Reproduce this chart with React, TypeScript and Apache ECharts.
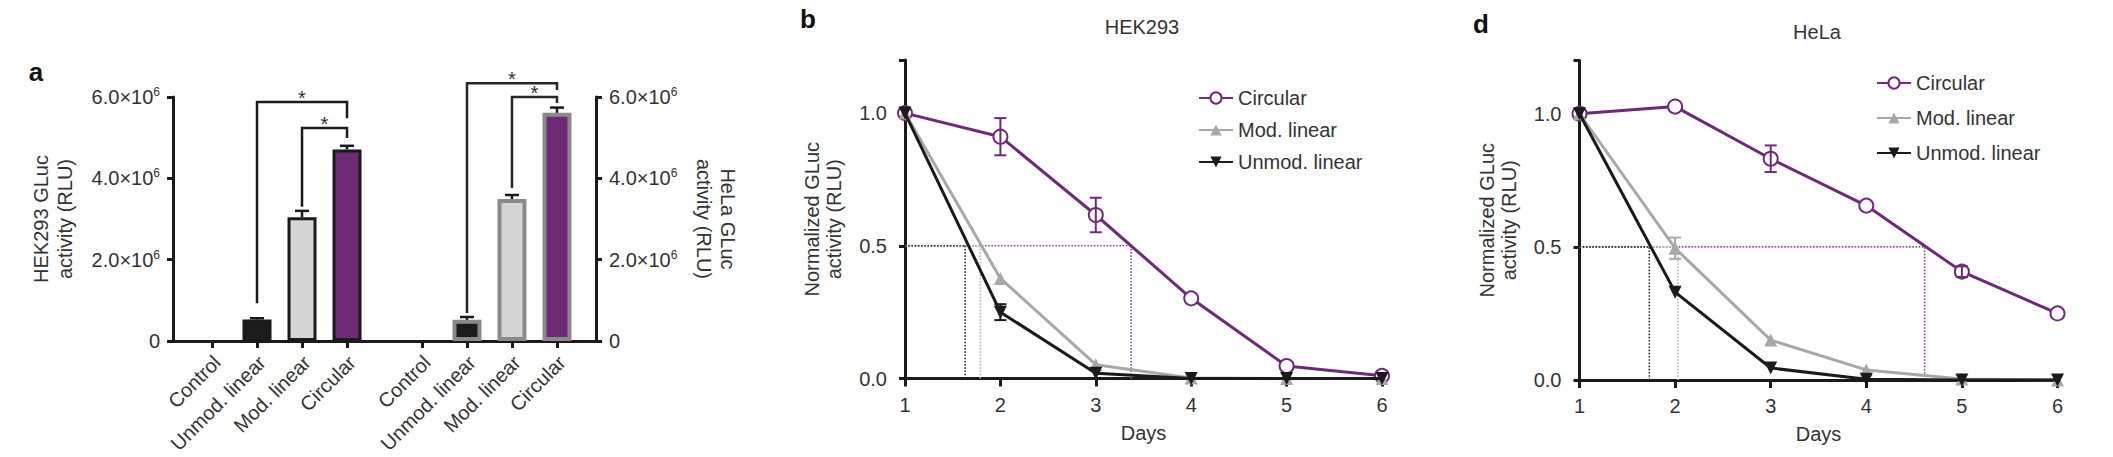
import React, { useEffect, useRef } from "react";
import * as echarts from "echarts";

// ---------- Panel a: bar data ----------
const barCategories = ["Control", "Unmod. linear", "Mod. linear", "Circular"];
const hekBarValues = [0, 0.53e6, 3.04e6, 4.71e6];
const hekBarErrors = [0, 0.03e6, 0.16e6, 0.09e6];
const helaBarValues = [0, 0.52e6, 3.49e6, 5.61e6];
const helaBarErrors = [0, 0.07e6, 0.1e6, 0.13e6];
const barFills = ["#1c1c1c", "#1c1c1c", "#d5d5d5", "#6e2a74"];
// significance brackets: [fromIndex, toIndex, level, leftFoot, rightFoot]
const hekBrackets = [
  [1, 3, 5.88e6, 0.93e6, 5.48e6],
  [2, 3, 5.24e6, 3.3e6, 4.99e6],
];
const helaBrackets = [
  [1, 3, 6.34e6, 0.69e6, 6.17e6],
  [2, 3, 6.0e6, 3.76e6, 5.85e6],
];

// ---------- Panels b / d: time courses ----------
const days = [1, 2, 3, 4, 5, 6];
const seriesNames = ["Circular", "Mod. linear", "Unmod. linear"];
const hekCircular = [1.0, 0.911, 0.616, 0.302, 0.047, 0.01];
const hekCircularErr = [0, 0.07, 0.065, 0, 0, 0];
const hekMod = [1.0, 0.377, 0.052, 0.002, 0.0, 0.0];
const hekModErr = [0, 0, 0, 0, 0, 0];
const hekUnmod = [1.0, 0.25, 0.02, 0.0, 0.0, 0.0];
const hekUnmodErr = [0, 0.03, 0, 0, 0, 0];
const hekHalfLives = [3.37, 1.79, 1.63];

const helaCircular = [1.0, 1.027, 0.831, 0.655, 0.407, 0.25];
const helaCircularErr = [0, 0, 0.05, 0, 0.02, 0];
const helaMod = [1.0, 0.495, 0.15, 0.038, 0.004, 0.0];
const helaModErr = [0, 0.04, 0, 0, 0, 0];
const helaUnmod = [1.0, 0.33, 0.045, 0.003, 0.0, 0.0];
const helaUnmodErr = [0, 0, 0, 0, 0, 0];
const helaHalfLives = [4.61, 2.03, 1.73];
const halfLevel = 0.5;

const FONT = "'Liberation Sans', Arial, Helvetica, sans-serif";
const FS = 20;
const AXIS = "#1a1a1a";
const TEXT = "#333333";
const PURPLE = "#6e2a78";
const GRAY = "#a8a8a8";
const BLACK = "#1a1a1a";
const lineColors = [PURPLE, GRAY, BLACK];
const dotColors = ["#8e4a9e", "#b8b8b8", "#333333"];

function barErrSeries(xi: number, vals: number[], errs: number[], color: string) {
  return {
    type: "custom",
    xAxisIndex: xi,
    yAxisIndex: xi,
    clip: false,
    z: 4,
    data: vals.map((v, i) => [i, v, errs[i]]).filter((d) => d[2] > 0),
    renderItem: (params: any, api: any) => {
      const x = api.value(0), y = api.value(1), e = api.value(2);
      const top = api.coord([x, y + e]);
      const bot = api.coord([x, y]);
      return {
        type: "group",
        children: [
          { type: "line", shape: { x1: top[0], y1: top[1], x2: bot[0], y2: bot[1] }, style: { stroke: color, lineWidth: 2.5 } },
          { type: "line", shape: { x1: top[0] - 7, y1: top[1], x2: top[0] + 7, y2: top[1] }, style: { stroke: color, lineWidth: 2.5 } },
        ],
      };
    },
  };
}

function bracketSeries(xi: number, brackets: number[][], color: string) {
  return {
    type: "custom",
    xAxisIndex: xi,
    yAxisIndex: xi,
    clip: false,
    z: 5,
    data: brackets,
    renderItem: (params: any, api: any) => {
      const x1 = api.value(0), x2 = api.value(1), lvl = api.value(2), lb = api.value(3), rb = api.value(4);
      const p1 = api.coord([x1, lb]);
      const p2 = api.coord([x1, lvl]);
      const p3 = api.coord([x2, lvl]);
      const p4 = api.coord([x2, rb]);
      return {
        type: "group",
        children: [
          {
            type: "polyline",
            shape: { points: [p1, p2, p3, p4] },
            style: { stroke: color, lineWidth: 2.5, fill: "none" },
          },
          {
            type: "text",
            x: (p2[0] + p3[0]) / 2,
            y: p2[1] - 4,
            style: { text: "*", fill: TEXT, font: `${FS}px ${FONT}`, align: "center", verticalAlign: "middle" },
          },
        ],
      };
    },
  };
}

// rotated category labels placed at the axis ticks
function categoryLabelSeries(xi: number) {
  return {
    type: "custom",
    xAxisIndex: xi,
    yAxisIndex: xi,
    clip: false,
    silent: true,
    z: 5,
    data: barCategories.map((c, i) => [i, 0]),
    renderItem: (params: any, api: any) => {
      const i = api.value(0);
      const p = api.coord([i, 0]);
      return {
        type: "text",
        x: p[0] + 5,
        y: p[1] + 18,
        rotation: Math.PI / 4,
        style: {
          text: barCategories[params.dataIndex],
          fill: TEXT,
          font: `${FS}px ${FONT}`,
          align: "right",
          verticalAlign: "middle",
        },
      };
    },
  };
}

function pointErrSeries(xi: number, vals: number[], errs: number[], color: string) {
  return {
    type: "custom",
    xAxisIndex: xi,
    yAxisIndex: xi,
    clip: false,
    z: 4,
    data: days.map((d, i) => [d, vals[i], errs[i]]).filter((d) => d[2] > 0),
    renderItem: (params: any, api: any) => {
      const x = api.value(0), y = api.value(1), e = api.value(2);
      const top = api.coord([x, y + e]);
      const bot = api.coord([x, y - e]);
      const st = { stroke: color, lineWidth: 2 };
      return {
        type: "group",
        children: [
          { type: "line", shape: { x1: top[0], y1: top[1], x2: bot[0], y2: bot[1] }, style: st },
          { type: "line", shape: { x1: top[0] - 6, y1: top[1], x2: top[0] + 6, y2: top[1] }, style: st },
          { type: "line", shape: { x1: bot[0] - 6, y1: bot[1], x2: bot[0] + 6, y2: bot[1] }, style: st },
        ],
      };
    },
  };
}

function dottedSeries(xi: number, halfLives: number[]) {
  const out: any[] = [];
  halfLives.forEach((h, k) => {
    const ls = { color: dotColors[k], width: 1.6, type: "dotted" };
    out.push({
      type: "line", xAxisIndex: xi, yAxisIndex: xi, symbol: "none", silent: true, z: 1,
      data: [[days[0], halfLevel], [h, halfLevel]], lineStyle: ls,
    });
    out.push({
      type: "line", xAxisIndex: xi, yAxisIndex: xi, symbol: "none", silent: true, z: 1,
      data: [[h, 0], [h, halfLevel]], lineStyle: ls,
    });
  });
  return out;
}

function lineSeries(xi: number, sets: number[][], errs: number[][]) {
  const out: any[] = [];
  const symbols = ["emptyCircle", "triangle", "triangle"];
  const rotates = [0, 0, 180];
  const sizes = [14, 13, 13];
  sets.forEach((vals, k) => {
    out.push({
      type: "line",
      name: seriesNames[k],
      xAxisIndex: xi,
      yAxisIndex: xi,
      z: 3 + k,
      data: days.map((d, i) => [d, vals[i]]),
      symbol: symbols[k],
      symbolRotate: rotates[k],
      symbolSize: sizes[k],
      lineStyle: { color: lineColors[k], width: 3 },
      itemStyle: { color: lineColors[k], borderColor: lineColors[k], borderWidth: k === 0 ? 3 : 0 },
    });
    out.push(pointErrSeries(xi, vals, errs[k], lineColors[k]));
  });
  return out;
}

const axisLineStyle = { color: AXIS, width: 3 };

function barXAxis(grid: number, min: number, max: number) {
  return {
    type: "value",
    gridIndex: grid,
    min,
    max,
    axisLine: { show: true, onZero: false, lineStyle: axisLineStyle },
    axisTick: { show: true, length: 7, customValues: [0, 1, 2, 3], lineStyle: { color: AXIS, width: 3 } },
    axisLabel: { show: false },
    splitLine: { show: false },
  };
}

function barYAxis(grid: number, position: string, name: string) {
  return {
    type: "value",
    gridIndex: grid,
    position,
    min: 0,
    max: 6e6,
    interval: 2e6,
    axisLine: { show: true, onZero: false, lineStyle: axisLineStyle },
    axisTick: { show: true, length: 6, lineStyle: { color: AXIS, width: 3 } },
    axisLabel: {
      margin: 13,
      formatter: (v: number) => (v === 0 ? "{n|0}" : `{n|${(v / 1e6).toFixed(1)}×10}{s|6}`),
      rich: {
        n: { fontSize: FS, color: TEXT, lineHeight: 22, fontFamily: FONT },
        s: { fontSize: 12, color: TEXT, lineHeight: 12, verticalAlign: "top", fontFamily: FONT },
      },
    },
    splitLine: { show: false },
    name,
    nameLocation: "middle",
    nameGap: 96,
    nameRotate: position === "left" ? 90 : -90,
    nameTextStyle: { fontSize: FS, color: TEXT, lineHeight: 24 },
  };
}

function lineXAxis(grid: number) {
  return {
    type: "value",
    gridIndex: grid,
    min: 1,
    max: 6,
    interval: 1,
    axisLine: { show: true, onZero: false, lineStyle: axisLineStyle },
    axisTick: { show: true, length: 8, lineStyle: { color: AXIS, width: 3 } },
    axisLabel: { fontSize: FS, color: TEXT, margin: 16 },
    splitLine: { show: false },
    name: "Days",
    nameLocation: "middle",
    nameGap: 44,
    nameTextStyle: { fontSize: FS, color: TEXT },
  };
}

function lineYAxis(grid: number) {
  return {
    type: "value",
    gridIndex: grid,
    min: 0,
    max: 1.2,
    interval: 0.5,
    axisLine: { show: true, onZero: false, lineStyle: axisLineStyle },
    axisTick: { show: true, length: 6, lineStyle: { color: AXIS, width: 3 } },
    axisLabel: {
      fontSize: FS,
      color: TEXT,
      margin: 18,
      formatter: (v: number) => (v > 1.1 ? "" : v.toFixed(1)),
    },
    splitLine: { show: false },
    name: "Normalized GLuc\nactivity (RLU)",
    nameLocation: "middle",
    nameGap: 60,
    nameRotate: 90,
    nameTextStyle: { fontSize: FS, color: TEXT, lineHeight: 22 },
  };
}

function legendAt(left: number, top: number, gap: number) {
  return {
    left,
    top,
    orient: "vertical",
    padding: 0,
    itemWidth: 34,
    itemHeight: 14,
    itemGap: gap,
    selectedMode: false,
    data: seriesNames,
    textStyle: { fontSize: FS, color: TEXT, fontFamily: FONT },
  };
}

export default function App() {
  const ref = useRef<HTMLDivElement>(null);
  useEffect(() => {
    if (!ref.current) return;
    const chart = echarts.init(ref.current, undefined, { renderer: "svg" });
    const grids = [
      { left: 173, top: 97, width: 211.5, height: 244 },
      { left: 384.5, top: 97, width: 211.5, height: 244 },
      { left: 905, top: 60, width: 477, height: 318.5 },
      { left: 1579.5, top: 60.5, width: 478, height: 319.5 },
    ].map((g) => ({ ...g, containLabel: false, outerBoundsMode: "none" }));

    const barSeries = (gi: number, vals: number[], border: string, bw: number) => ({
      type: "bar",
      xAxisIndex: gi,
      yAxisIndex: gi,
      barWidth: 29,
      z: 2,
      data: vals.map((v, i) => ({
        value: [i, v],
        itemStyle: { color: barFills[i], borderWidth: v > 0 ? bw : 0, borderColor: border },
      })),
    });

    const option: any = {
      animation: false,
      backgroundColor: "#ffffff",
      textStyle: { fontFamily: FONT },
      grid: grids,
      legend: [legendAt(1198, 88, 12), legendAt(1876, 73, 15)],
      xAxis: [barXAxis(0, -0.867, 3.833), barXAxis(1, -0.833, 3.867), lineXAxis(2), lineXAxis(3)],
      yAxis: [
        barYAxis(0, "left", "HEK293 GLuc\nactivity (RLU)"),
        barYAxis(1, "right", "HeLa GLuc\nactivity (RLU)"),
        lineYAxis(2),
        lineYAxis(3),
      ],
      series: [
        barSeries(0, hekBarValues, "#1a1a1a", 3),
        barErrSeries(0, hekBarValues, hekBarErrors, "#1a1a1a"),
        bracketSeries(0, hekBrackets, "#1a1a1a"),
        categoryLabelSeries(0),
        barSeries(1, helaBarValues, "#8a8a8a", 4),
        barErrSeries(1, helaBarValues, helaBarErrors, "#1a1a1a"),
        bracketSeries(1, helaBrackets, "#262626"),
        categoryLabelSeries(1),
        ...dottedSeries(2, hekHalfLives),
        ...lineSeries(2, [hekCircular, hekMod, hekUnmod], [hekCircularErr, hekModErr, hekUnmodErr]),
        ...dottedSeries(3, helaHalfLives),
        ...lineSeries(3, [helaCircular, helaMod, helaUnmod], [helaCircularErr, helaModErr, helaUnmodErr]),
      ],
      graphic: [
        { type: "text", x: 36, y: 72, style: { text: "a", font: `bold 26px ${FONT}`, fill: "#111", align: "center", verticalAlign: "middle" } },
        { type: "text", x: 808, y: 19, style: { text: "b", font: `bold 26px ${FONT}`, fill: "#111", align: "center", verticalAlign: "middle" } },
        { type: "text", x: 1481, y: 24, style: { text: "d", font: `bold 26px ${FONT}`, fill: "#111", align: "center", verticalAlign: "middle" } },
        { type: "text", x: 1142, y: 27, style: { text: "HEK293", font: `${FS}px ${FONT}`, fill: TEXT, align: "center", verticalAlign: "middle" } },
        { type: "text", x: 1817, y: 32, style: { text: "HeLa", font: `${FS}px ${FONT}`, fill: TEXT, align: "center", verticalAlign: "middle" } },
      ],
    };
    chart.setOption(option);
    return () => chart.dispose();
  }, []);
  return (
    <div
      ref={ref}
      style={{ position: "fixed", left: 0, top: 0, width: 2113, height: 457, background: "#fff" }}
    />
  );
}
